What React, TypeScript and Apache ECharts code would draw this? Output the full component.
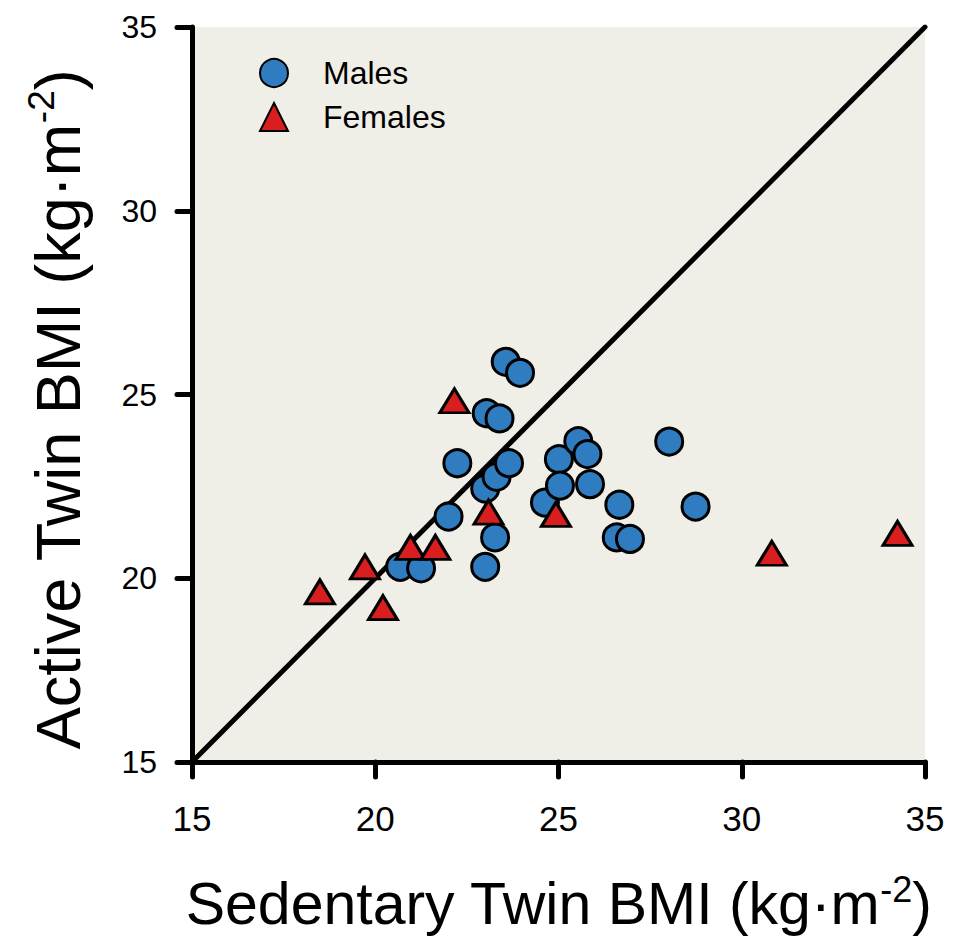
import React, { useEffect, useRef } from "react";
import * as echarts from "echarts";

const FONT = "'Liberation Sans', Arial, Helvetica, sans-serif";

const axisTicks = [15, 20, 25, 30, 35];

const malesX = [20.68, 21.25, 22.0, 22.24, 23.0, 23.0, 23.04, 23.27, 23.31, 23.39, 23.56, 23.65, 23.95, 24.63, 25.01, 25.04, 25.54, 25.79, 25.86, 26.59, 26.66, 26.95, 28.02, 28.74];
const malesY = [20.31, 20.27, 21.68, 23.13, 20.31, 22.44, 24.49, 21.11, 22.76, 24.35, 25.89, 23.13, 25.59, 22.06, 23.24, 22.52, 23.73, 23.38, 22.56, 21.11, 22.0, 21.07, 23.72, 21.95];

const femalesX = [18.49, 19.72, 20.21, 20.96, 21.64, 22.16, 23.09, 24.93, 30.82, 34.25];
const femalesY = [19.63, 20.31, 19.2, 20.84, 20.84, 24.83, 21.8, 21.74, 20.68, 21.22];

const identityLine = [15, 35];

const seriesNames = ["Males", "Females"];
const xTitle = "Sedentary Twin BMI (kg·m";
const yTitle = "Active Twin BMI (kg·m";
const unitPower = "-2";

export default function App() {
  const ref = useRef<HTMLDivElement>(null);

  useEffect(() => {
    document.body.style.margin = "0";
    if (!ref.current) return;
    const chart = echarts.init(ref.current, undefined, { renderer: "svg" });
    const males = malesX.map((x, i) => [x, malesY[i]]);
    const females = femalesX.map((x, i) => [x, femalesY[i]]);
    const makeRich = (size: number, sup: number) => ({
      a: { fontSize: size, fontFamily: FONT, color: "#000", lineHeight: Math.round(size * 1.1) },
      s: { fontSize: sup, fontFamily: FONT, color: "#000", lineHeight: sup, verticalAlign: "top" },
    });
    const axisCommon = {
      type: "value",
      min: axisTicks[0],
      max: axisTicks[axisTicks.length - 1],
      interval: 5,
      splitLine: { show: false },
      axisLine: { show: true, onZero: false, lineStyle: { color: "#000", width: 5, cap: "round" } },
      axisTick: { show: true, length: 15, lineStyle: { color: "#000", width: 5, cap: "round" } },
      nameLocation: "middle",
    };
    chart.setOption({
      animation: false,
      backgroundColor: "#ffffff",
      grid: {
        left: 192,
        right: 28,
        top: 27,
        bottom: 180,
        show: true,
        backgroundColor: "#f0efe7",
        borderWidth: 0,
      },
      legend: {
        orient: "vertical",
        left: 254,
        top: 52,
        itemWidth: 28,
        itemHeight: 28,
        itemGap: 12,
        data: seriesNames,
        textStyle: { fontSize: 32, fontFamily: FONT, color: "#000", padding: [0, 0, 0, 30] },
      },
      xAxis: {
        ...axisCommon,
        name: `{a|${xTitle}}{s|${unitPower}}{a|)}`,
        nameGap: 109,
        nameTextStyle: { rich: makeRich(59, 36) },
        axisLabel: { fontSize: 35, fontFamily: FONT, color: "#000", margin: 39 },
      },
      yAxis: {
        ...axisCommon,
        name: `{a|${yTitle}}{s|${unitPower}}{a|)}`,
        nameGap: 100,
        nameTextStyle: { rich: makeRich(63, 37), padding: [0, 30, 0, 0] },
        axisLabel: { fontSize: 32, fontFamily: FONT, color: "#000", margin: 35 },
      },
      series: [
        {
          type: "line",
          data: identityLine.map((v) => [v, v]),
          showSymbol: false,
          symbol: "none",
          lineStyle: { color: "#000", width: 5, cap: "round" },
          z: 1,
          silent: true,
        },
        {
          name: seriesNames[0],
          type: "scatter",
          data: males,
          symbol: "circle",
          symbolSize: 27,
          itemStyle: { color: "#2f7dc0", borderColor: "#000", borderWidth: 3, opacity: 1 },
          z: 3,
        },
        {
          name: seriesNames[1],
          type: "scatter",
          data: females,
          symbol: "triangle",
          symbolSize: [29, 24],
          itemStyle: { color: "#d81e1e", borderColor: "#000", borderWidth: 3, opacity: 1 },
          z: 4,
        },
      ],
    });
    return () => chart.dispose();
  }, []);

  return <div ref={ref} style={{ width: 953, height: 942 }} />;
}
